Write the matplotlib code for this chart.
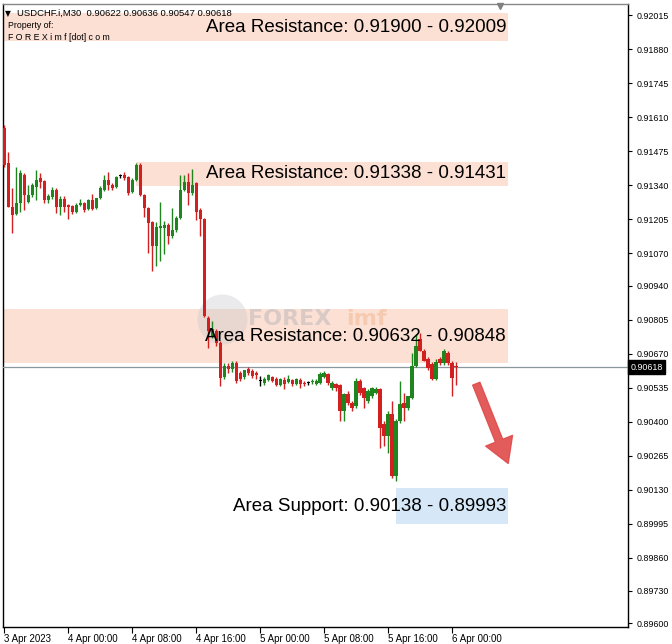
import matplotlib.pyplot as plt
import matplotlib.transforms as mtransforms
from matplotlib.patches import Rectangle

# OHLC in points (1 point = 0.00001), USDCHF M30
opens = [91566, 91427, 91252, 91224, 91268, 91380, 91272, 91300, 91332, 91368,
         91356, 91280, 91292, 91320, 91252, 91284, 91260, 91256, 91232, 91260,
         91268, 91244, 91280, 91248, 91288, 91320, 91360, 91340, 91332, 91376,
         91380, 91372, 91312, 91360, 91419, 91300, 91248, 91192, 91100, 91168,
         91168, 91180, 91140, 91160, 91208, 91320, 91352, 91308, 91348, 91240,
         91204, 90814, 90742, 90762, 90714, 90579, 90623, 90611, 90635, 90595,
         90579, 90611, 90603, 90595, 90563, 90555, 90567, 90579, 90571, 90547,
         90567, 90559, 90567, 90551, 90567, 90555, 90555, 90559, 90551, 90555,
         90579, 90591, 90535, 90551, 90547, 90444, 90512, 90476, 90464, 90563,
         90535, 90484, 90504, 90516, 90531, 90393, 90345, 90432, 90186, 90404,
         90476, 90456, 90496, 90623, 90730, 90682, 90651, 90631, 90571, 90651,
         90635, 90674, 90635, 90622]
highs = [91579, 91471, 91328, 91411, 91400, 91388, 91340, 91348, 91400, 91388,
         91360, 91304, 91332, 91328, 91296, 91296, 91264, 91260, 91268, 91284,
         91272, 91284, 91304, 91288, 91336, 91380, 91392, 91348, 91376, 91384,
         91392, 91376, 91368, 91427, 91427, 91304, 91252, 91196, 91192, 91272,
         91196, 91188, 91248, 91216, 91380, 91380, 91388, 91403, 91352, 91248,
         91208, 90822, 90802, 90770, 90722, 90635, 90635, 90643, 90643, 90603,
         90607, 90619, 90611, 90603, 90583, 90579, 90591, 90583, 90579, 90575,
         90579, 90587, 90571, 90575, 90575, 90563, 90563, 90571, 90571, 90599,
         90603, 90595, 90563, 90555, 90551, 90516, 90523, 90484, 90575, 90571,
         90539, 90531, 90539, 90539, 90535, 90404, 90444, 90484, 90412, 90563,
         90516, 90504, 90674, 90750, 90754, 90690, 90658, 90639, 90651, 90658,
         90690, 90682, 90643, 90636]
lows = [91411, 91252, 91148, 91220, 91232, 91240, 91268, 91292, 91280, 91328,
        91268, 91268, 91284, 91228, 91220, 91232, 91204, 91224, 91228, 91256,
        91232, 91240, 91240, 91244, 91284, 91316, 91320, 91320, 91328, 91368,
        91360, 91300, 91308, 91356, 91296, 91212, 91072, 91000, 91020, 91040,
        91068, 91108, 91132, 91152, 91204, 91316, 91260, 91300, 91200, 91140,
        90818, 90694, 90734, 90702, 90543, 90571, 90595, 90599, 90555, 90563,
        90571, 90587, 90575, 90571, 90543, 90547, 90563, 90559, 90543, 90543,
        90531, 90555, 90543, 90547, 90535, 90543, 90547, 90551, 90547, 90551,
        90575, 90547, 90527, 90523, 90404, 90404, 90468, 90444, 90456, 90508,
        90456, 90476, 90496, 90512, 90297, 90305, 90277, 90178, 90167, 90397,
        90404, 90448, 90492, 90619, 90682, 90643, 90607, 90567, 90567, 90627,
        90627, 90627, 90504, 90547]
closes = [91419, 91252, 91220, 91268, 91388, 91300, 91300, 91340, 91360, 91352,
          91280, 91296, 91320, 91252, 91284, 91252, 91252, 91232, 91260, 91268,
          91240, 91280, 91244, 91288, 91328, 91360, 91340, 91328, 91372, 91376,
          91368, 91308, 91360, 91419, 91300, 91248, 91188, 91100, 91172, 91176,
          91180, 91140, 91160, 91208, 91320, 91352, 91308, 91340, 91232, 91204,
          90822, 90762, 90770, 90714, 90575, 90623, 90611, 90635, 90563, 90571,
          90607, 90595, 90583, 90587, 90563, 90571, 90587, 90563, 90547, 90571,
          90551, 90571, 90551, 90571, 90551, 90551, 90555, 90563, 90563, 90591,
          90595, 90555, 90555, 90535, 90444, 90512, 90476, 90456, 90563, 90516,
          90496, 90523, 90535, 90531, 90377, 90345, 90432, 90186, 90404, 90472,
          90456, 90504, 90623, 90702, 90682, 90643, 90615, 90571, 90639, 90635,
          90682, 90635, 90575, 90618]

last_price = 0.90618
header = "\u25bc USDCHF.i,M30  0.90622 0.90636 0.90547 0.90618"

# zones: (label, low, high, first bar, colour)
zones = [("Area Resistance: 0.91900 - 0.92009", 0.91912, 0.92023, -1, "#fce0d3"),
         ("Area Resistance: 0.91338 - 0.91431", 0.91338, 0.91431, 33, "#fce0d3"),
         ("Area Resistance: 0.90632 - 0.90848", 0.90632, 0.90848, -1, "#fce0d3"),
         ("Area Support: 0.90138 - 0.89993", 0.89993, 0.90138, 98, "#d6e8f8")]
zone_end = 126

ytick_labels = ["0.92015", "0.91880", "0.91745", "0.91610", "0.91475", "0.91340",
                "0.91205", "0.91070", "0.90940", "0.90805", "0.90670", "0.90535",
                "0.90400", "0.90265", "0.90130", "0.89995", "0.89860", "0.89730",
                "0.89600"]
xtick_pos = [0, 16, 32, 48, 64, 80, 96, 112]
xtick_labels = ["3 Apr 2023", "4 Apr 00:00", "4 Apr 08:00", "4 Apr 16:00",
                "5 Apr 00:00", "5 Apr 08:00", "5 Apr 16:00", "6 Apr 00:00"]

RED = "#d21f1f"
GREEN = "#1f861f"
SMALL = "Liberation Sans"

fig = plt.figure(figsize=(6.72, 6.44), dpi=100)
ax = fig.add_axes([3 / 672, 1 - 627 / 644, 625 / 672, 623 / 644])
ax.set_xlim(-0.3, 156.0)
ax.set_ylim(0.89586, 0.92059)

# zones
for label, lo, hi, start, col in zones:
    ax.add_patch(Rectangle((start, lo), zone_end - start, hi - lo,
                           facecolor=col, edgecolor="none", zorder=1))
    ax.text(zone_end - 0.5, (lo + hi) / 2, label, ha="right", va="center",
            fontsize=13.5, family="Liberation Sans", color="black", zorder=5)

# faded watermark
ax.plot([54.5], [0.9081], marker="o", ms=36, color="#c4c4cc", alpha=0.35,
        mew=0, zorder=2)
ax.text(61, 0.9081, "FOREX", fontsize=16, fontweight="bold", color="#b0b0b8",
        alpha=0.45, va="center", ha="left", zorder=2)
ax.text(85.5, 0.9081, "imf", fontsize=16, fontweight="bold", color="#f0b088",
        alpha=0.45, va="center", ha="left", zorder=2)

# current price line
ax.axhline(last_price, color="#8a979c", lw=0.9, zorder=3)

# candles
for i in range(len(opens)):
    o, h, l, c = opens[i] / 1e5, highs[i] / 1e5, lows[i] / 1e5, closes[i] / 1e5
    if opens[i] == closes[i]:
        col = "black"
    elif c > o:
        col = GREEN
    else:
        col = RED
    ax.vlines(i, l, h, color=col, lw=1, zorder=4)
    body = max(abs(c - o), 0.00004)
    ax.bar(i, body, bottom=min(o, c), width=0.8, color=col, lw=0, zorder=4)

# arrow
ax.annotate("", xy=(126.3, 0.90225), xytext=(117.8, 0.90562),
            arrowprops=dict(arrowstyle="simple,head_width=1.3,head_length=1.1,tail_width=0.35",
                            color="#e04a4a", alpha=0.9, mutation_scale=16), zorder=6)

# header texts
ax.text(0.003, 0.992, "\u25bc", transform=ax.transAxes, fontsize=5.5,
        va="top", ha="left", family="DejaVu Sans", zorder=6)
ax.text(0.0225, 0.992, header[2:], transform=ax.transAxes, fontsize=6.8,
        va="top", ha="left", family=SMALL, zorder=6)
ax.text(0.008, 0.973, "Property of:", transform=ax.transAxes, fontsize=6.3,
        va="top", ha="left", family=SMALL, zorder=6)
ax.text(0.008, 0.953, "F O R E X i m f [dot] c o m", transform=ax.transAxes,
        fontsize=6.3, va="top", ha="left", family=SMALL, zorder=6)
ax.plot([0.795], [0.996], marker="v", color="#808080", ms=5,
        transform=ax.transAxes, clip_on=False, zorder=6)

# axes styling
for s in ax.spines.values():
    s.set_color("black")
    s.set_linewidth(1)
ax.spines["top"].set_color("#888888")
ax.yaxis.tick_right()
ax.set_yticks([float(t) for t in ytick_labels])
ax.set_yticklabels(ytick_labels, fontsize=6.4, family=SMALL)
ax.tick_params(axis="y", length=3, width=0.8, pad=3)
ax.set_xticks(xtick_pos)
ax.set_xticklabels(xtick_labels, fontsize=7, ha="left", family=SMALL)
ax.tick_params(axis="x", length=4, width=0.8, pad=1)

# price tag on the right axis
trans = mtransforms.blended_transform_factory(ax.transAxes, ax.transData)
ax.text(1.004, last_price, "0.90618", transform=trans, fontsize=6.4,
        family=SMALL, color="white", va="center", ha="left", zorder=7,
        bbox=dict(facecolor="black", edgecolor="black", pad=1.5))

fig.savefig("out.png", dpi=100, facecolor="white")
